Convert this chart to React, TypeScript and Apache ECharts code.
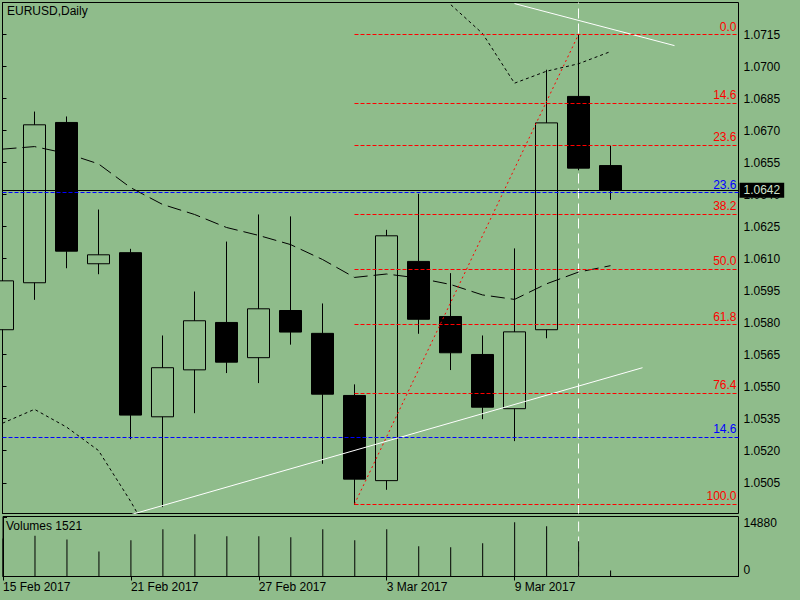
import React, { useEffect, useRef } from "react";
import * as echarts from "echarts";

// ---- data ----
const dates = [
  "15 Feb 2017", "16 Feb 2017", "17 Feb 2017", "20 Feb 2017", "21 Feb 2017",
  "22 Feb 2017", "23 Feb 2017", "24 Feb 2017", "27 Feb 2017", "28 Feb 2017",
  "1 Mar 2017", "2 Mar 2017", "3 Mar 2017", "6 Mar 2017", "7 Mar 2017",
  "8 Mar 2017", "9 Mar 2017", "10 Mar 2017", "13 Mar 2017", "14 Mar 2017",
];
const opens = [1.05767, 1.05987, 1.06738, 1.06076, 1.06128, 1.05359, 1.05579, 1.05801, 1.05636, 1.05857, 1.0575, 1.05459, 1.0506, 1.06087, 1.05829, 1.05651, 1.05397, 1.05767, 1.0686, 1.06536];
const closes = [1.05996, 1.06727, 1.06135, 1.06118, 1.05367, 1.05589, 1.05809, 1.05615, 1.05865, 1.05756, 1.05465, 1.05067, 1.06207, 1.05816, 1.05659, 1.05404, 1.05757, 1.06736, 1.06524, 1.0642];
const lows = [1.0572, 1.05907, 1.06055, 1.06027, 1.05254, 1.04936, 1.05376, 1.05564, 1.05517, 1.05697, 1.05139, 1.04947, 1.05017, 1.05748, 1.05578, 1.05348, 1.05245, 1.05727, 1.06514, 1.06376];
const highs = [1.0604, 1.06789, 1.06766, 1.0633, 1.06146, 1.0574, 1.05946, 1.0618, 1.06307, 1.06298, 1.0589, 1.05511, 1.06235, 1.06404, 1.06032, 1.0574, 1.06148, 1.06985, 1.0715, 1.06629];
const volumes = [9480, 10213, 9247, 6238, 9081, 11836, 10562, 10074, 10089, 9817, 11842, 9063, 11829, 7561, 7318, 8334, 13587, 12566, 8812, 1521];
const maValues = [1.06613, 1.06625, 1.06593, 1.06544, 1.06433, 1.06354, 1.06307, 1.06246, 1.06209, 1.06166, 1.06096, 1.06012, 1.06028, 1.06009, 1.05979, 1.0593, 1.05909, 1.05982, 1.06037, 1.06067];
const bandUpper = [1.0792, 1.0795, 1.079, 1.0785, 1.078, 1.0778, 1.0775, 1.077, 1.0768, 1.0765, 1.076, 1.0755, 1.0752, 1.0745, 1.07291, 1.07155, 1.06922, 1.06978, 1.07013, 1.0707];
const bandLower = [1.05329, 1.05394, 1.05311, 1.05201, 1.04964, 1.047, 1.0468, 1.0466, 1.0463, 1.0462, 1.0459, 1.0455, 1.0452, 1.0458, 1.0467, 1.047, 1.0486, 1.0487, 1.0484, 1.0482];

const priceTicks = [1.0505, 1.052, 1.0535, 1.055, 1.0565, 1.058, 1.0595, 1.061, 1.0625, 1.064, 1.0655, 1.067, 1.0685, 1.07, 1.0715];
const volumeTicks = [0, 14880];
const dateTickIndex = [0, 4, 8, 12, 16];

const fibLevels = [0, 14.6, 23.6, 38.2, 50, 61.8, 76.4, 100];
const fibLowIndex = 11;
const fibHighIndex = 18;
const fibLow = 1.0495;
const fibHigh = 1.0715;

const blueFibLabels = ["23.6", "14.6"];
const blueFibPrices = [1.06409, 1.05264];

const trendLowPoints = [[4, 1.049], [20, 1.05589]];
const trendHighPoints = [[16, 1.07295], [21, 1.07098]];
const cursorIndex = 18;

// ---- presentation ----
const BG = "#8fbc8b";
const FONT = "'Liberation Sans', Arial, sans-serif";
const FS = 12;
const PRICE_MIN = 1.04906;
const PRICE_MAX = 1.073;
const VOL_MAX = 15000;
const X_MAX = 23;

export default function App() {
  const ref = useRef<HTMLDivElement>(null);

  useEffect(() => {
    if (!ref.current) return;
    const chart = echarts.init(ref.current, null, { renderer: "svg" });
    const n = dates.length;
    const candleData = dates.map((_, i) => [i, opens[i], closes[i], lows[i], highs[i]]);
    const currentPrice = closes[n - 1];

    const fibMarks = fibLevels.map((lv) => {
      const p = fibHigh - ((fibHigh - fibLow) * lv) / 100;
      const lbl = {
        show: true,
        position: "insideEndTop",
        formatter: lv.toFixed(1),
        color: "#ff0000",
        fontSize: FS,
        fontFamily: FONT,
        distance: 2,
      };
      const ls = { color: "#ff0000", type: [4, 2], width: 1 };
      return [
        { coord: [fibLowIndex, p], label: lbl, lineStyle: ls },
        { coord: [X_MAX, p], label: lbl, lineStyle: ls },
      ];
    });

    const horizMarks: any[] = blueFibPrices.map((p, k) => ({
      yAxis: p,
      lineStyle: { color: "#0000ff", type: [4, 2], width: 1 },
      label: {
        show: true,
        position: "insideEndTop",
        formatter: blueFibLabels[k],
        color: "#0000ff",
        fontSize: FS,
        fontFamily: FONT,
        distance: 2,
      },
    }));
    horizMarks.push({
      yAxis: currentPrice,
      lineStyle: { color: "#000", type: "solid", width: 1 },
      label: {
        show: true,
        position: "end",
        formatter: currentPrice.toFixed(4),
        backgroundColor: "#000",
        color: "#cfe0cb",
        padding: [2, 4, 1, 4],
        distance: 1,
        fontSize: FS,
        fontFamily: FONT,
      },
    });

    const axisText = { color: "#000", fontSize: FS, fontFamily: FONT };

    chart.setOption({
      animation: false,
      backgroundColor: BG,
      textStyle: { fontFamily: FONT },
      title: [
        { text: "EURUSD,Daily", left: 7, top: 5, padding: 0, textStyle: { ...axisText, fontWeight: "normal" } },
        { text: "Volumes " + volumes[n - 1], left: 6, top: 520, padding: 0, textStyle: { ...axisText, fontWeight: "normal" } },
      ],
      grid: [
        { left: 2.5, top: 2.5, width: 736, height: 511, show: true, borderColor: "#000", borderWidth: 1, backgroundColor: "transparent" },
        { left: 2.5, top: 516.5, width: 736, height: 60, show: true, borderColor: "#000", borderWidth: 1, backgroundColor: "transparent" },
      ],
      xAxis: [
        { gridIndex: 0, type: "value", min: 0, max: X_MAX, show: false, splitLine: { show: false } },
        {
          gridIndex: 1,
          type: "value",
          min: 0,
          max: X_MAX,
          axisLine: { show: true, lineStyle: { color: "#000", width: 1 } },
          axisTick: { show: true, customValues: dateTickIndex, length: 4, lineStyle: { color: "#000" } },
          axisLabel: {
            show: true,
            customValues: dateTickIndex,
            formatter: (v: number) => dates[Math.round(v)] || "",
            align: "left",
            margin: 4,
            ...axisText,
          },
          splitLine: { show: false },
        },
      ],
      yAxis: [
        {
          gridIndex: 0,
          type: "value",
          position: "right",
          min: PRICE_MIN,
          max: PRICE_MAX,
          axisLine: { show: true, lineStyle: { color: "#000", width: 1 } },
          axisTick: { show: true, customValues: priceTicks, length: 4, lineStyle: { color: "#000" } },
          axisLabel: {
            show: true,
            customValues: priceTicks,
            formatter: (v: number) => v.toFixed(4),
            margin: 5,
            ...axisText,
          },
          splitLine: { show: false },
        },
        {
          gridIndex: 1,
          type: "value",
          position: "right",
          min: 0,
          max: VOL_MAX,
          axisLine: { show: true, lineStyle: { color: "#000", width: 1 } },
          axisTick: { show: true, customValues: volumeTicks, length: 4, lineStyle: { color: "#000" } },
          axisLabel: {
            show: true,
            customValues: volumeTicks,
            formatter: (v: number) => (v === 0 ? "{lo|" + v + "}" : "{hi|" + v + "}"),
            margin: 5,
            ...axisText,
            rich: {
              lo: { ...axisText, padding: [0, 0, 14, 0] },
              hi: { ...axisText, padding: [12, 0, 0, 0] },
            },
          },
          splitLine: { show: false },
        },
      ],
      series: [
        {
          type: "line",
          xAxisIndex: 0,
          yAxisIndex: 0,
          data: [[cursorIndex, PRICE_MIN], [cursorIndex, PRICE_MAX]],
          symbol: "none",
          lineStyle: { color: "#ffffff", width: 1, type: [10, 5] },
          z: 1,
          silent: true,
        },
        {
          type: "line",
          xAxisIndex: 1,
          yAxisIndex: 1,
          data: [[cursorIndex, 0], [cursorIndex, VOL_MAX]],
          symbol: "none",
          lineStyle: { color: "#ffffff", width: 1, type: [10, 5] },
          z: 1,
          silent: true,
        },
        {
          type: "bar",
          xAxisIndex: 1,
          yAxisIndex: 1,
          data: volumes.map((v, i) => [i, v]),
          barWidth: 1,
          itemStyle: { color: "#000" },
          z: 2,
          silent: true,
        },
        {
          type: "candlestick",
          xAxisIndex: 0,
          yAxisIndex: 0,
          data: candleData,
          encode: { x: 0, y: [1, 2, 3, 4] },
          barWidth: 22,
          itemStyle: { color: BG, color0: "#000", borderColor: "#000", borderColor0: "#000", borderWidth: 1 },
          z: 3,
          silent: true,
          markLine: {
            silent: true,
            symbol: ["none", "none"],
            precision: 6,
            data: horizMarks,
          },
        },
        {
          type: "line",
          data: maValues.map((v, i) => [i, v]),
          symbol: "none",
          lineStyle: { color: "#000", width: 1, type: [14, 6] },
          z: 4,
          silent: true,
        },
        {
          type: "line",
          data: bandUpper.map((v, i) => [i, v]),
          symbol: "none",
          lineStyle: { color: "#000", width: 1, type: [3, 3] },
          z: 4,
          silent: true,
        },
        {
          type: "line",
          data: bandLower.map((v, i) => [i, v]),
          symbol: "none",
          lineStyle: { color: "#000", width: 1, type: [3, 3] },
          z: 4,
          silent: true,
        },
        {
          type: "line",
          data: [[fibLowIndex, fibLow], [fibHighIndex, fibHigh]],
          symbol: "none",
          lineStyle: { color: "#ff0000", width: 1, type: [2, 3] },
          z: 4,
          silent: true,
          markLine: {
            silent: true,
            symbol: ["none", "none"],
            precision: 6,
            data: fibMarks,
          },
        },
        {
          type: "line",
          data: trendLowPoints,
          symbol: "none",
          lineStyle: { color: "#ffffff", width: 1 },
          z: 4,
          silent: true,
        },
        {
          type: "line",
          data: trendHighPoints,
          symbol: "none",
          lineStyle: { color: "#ffffff", width: 1 },
          z: 4,
          silent: true,
        },
      ],
    });
    return () => chart.dispose();
  }, []);

  return (
    <div
      ref={ref}
      style={{ position: "fixed", left: 0, top: 0, width: 800, height: 600, background: BG }}
    />
  );
}
